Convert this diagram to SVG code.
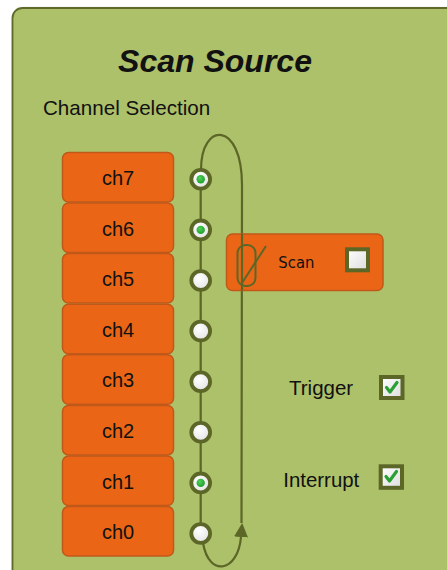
<svg xmlns="http://www.w3.org/2000/svg" width="447" height="570" viewBox="0 0 447 570">
  <defs>
    <radialGradient id="knob" cx="0.4" cy="0.35" r="0.7">
      <stop offset="0" stop-color="#ffffff"/>
      <stop offset="1" stop-color="#e2e2e2"/>
    </radialGradient>
    <radialGradient id="led" cx="0.4" cy="0.35" r="0.7">
      <stop offset="0" stop-color="#4fd25a"/>
      <stop offset="1" stop-color="#1f9a2a"/>
    </radialGradient>
    <linearGradient id="boxfill" x1="0" y1="0" x2="1" y2="1">
      <stop offset="0" stop-color="#ffffff"/>
      <stop offset="1" stop-color="#dcdcdc"/>
    </linearGradient>
    <marker id="arrow" viewBox="0 0 14 14" refX="0" refY="7" markerWidth="14" markerHeight="14" markerUnits="userSpaceOnUse" orient="auto">
      <path d="M0,0 L14,7 L0,14 Z" fill="#5b6627"/>
    </marker>
    <filter id="shadow" x="-5%" y="-5%" width="110%" height="110%">
      <feDropShadow dx="1" dy="1" stdDeviation="0.8" flood-color="#000" flood-opacity="0.35"/>
    </filter>
  </defs>
  <style>
    .panel { fill: #adc06b; stroke: #5e6b2a; stroke-width: 1.8; }
    .ch rect { fill: #ea6616; stroke: #c0581a; stroke-width: 1.5; }
    .label { font-family: "Liberation Sans", Arial, sans-serif; font-size: 20px; fill: #111; }
    .ch text { text-anchor: middle; }
    .title { font-family: "Liberation Sans", Arial, sans-serif; font-size: 32px; font-weight: bold; font-style: italic; fill: #111; text-anchor: middle; }
    .scanlabel { font-family: "DejaVu Sans Condensed", "DejaVu Sans", sans-serif; font-size: 16.5px; fill: #111; }
    .wire { fill: none; stroke: #5b6627; stroke-width: 2.2; }
    .knob { fill: url(#knob); stroke: #5b6627; stroke-width: 3.8; }
    .dot { fill: url(#led); }
    .check { fill: url(#boxfill); stroke: #5b6627; stroke-width: 4; }
    .tick { fill: none; stroke: #2aa034; stroke-width: 3.2; stroke-linecap: round; stroke-linejoin: round; }
  </style>

  <!-- background panel, running off the right and bottom edges -->
  <rect class="panel" x="12.5" y="8" width="460" height="600" rx="10" filter="url(#shadow)"/>

  <text class="title" x="215" y="72">Scan Source</text>
  <text class="label" x="43" y="115" style="font-size:20.6px">Channel Selection</text>

  <!-- channel buttons -->
  <g id="ch7" class="ch"><rect x="62.5" y="152.5" width="111" height="49.5" rx="6"/><text class="label" x="118" y="185">ch7</text></g>
  <g id="ch6" class="ch"><rect x="62.5" y="203" width="111" height="49.5" rx="6"/><text class="label" x="118" y="235.5">ch6</text></g>
  <g id="ch5" class="ch"><rect x="62.5" y="253.6" width="111" height="49.5" rx="6"/><text class="label" x="118" y="286.1">ch5</text></g>
  <g id="ch4" class="ch"><rect x="62.5" y="304.2" width="111" height="49.5" rx="6"/><text class="label" x="118" y="336.7">ch4</text></g>
  <g id="ch3" class="ch"><rect x="62.5" y="354.8" width="111" height="49.5" rx="6"/><text class="label" x="118" y="387.3">ch3</text></g>
  <g id="ch2" class="ch"><rect x="62.5" y="405.4" width="111" height="49.5" rx="6"/><text class="label" x="118" y="437.9">ch2</text></g>
  <g id="ch1" class="ch"><rect x="62.5" y="456" width="111" height="49.5" rx="6"/><text class="label" x="118" y="488.5">ch1</text></g>
  <g id="ch0" class="ch"><rect x="62.5" y="506.6" width="111" height="49.5" rx="6"/><text class="label" x="118" y="539.1">ch0</text></g>

  <!-- connectors: selector bus and scan loop -->
  <g id="connectors">
    <line class="wire" x1="200.7" y1="179.3" x2="200.7" y2="532.7"/>
    <path class="wire" d="M241.5,523 L242,185 C242,121 201,121 201,170"/>
    <path class="wire" d="M203,543 C209,578 238,572 241,537" marker-end="url(#arrow)"/>
  </g>

  <!-- channel selector knobs -->
  <g id="knobs">
    <g id="sel7"><circle class="knob" cx="200.7" cy="179.3" r="9.4"/><circle class="dot" cx="200.7" cy="179.3" r="4.2"/></g>
    <g id="sel6"><circle class="knob" cx="200.7" cy="229.9" r="9.4"/><circle class="dot" cx="200.7" cy="229.9" r="4.2"/></g>
    <g id="sel5"><circle class="knob" cx="200.7" cy="280.5" r="9.4"/></g>
    <g id="sel4"><circle class="knob" cx="200.7" cy="331.1" r="9.4"/></g>
    <g id="sel3"><circle class="knob" cx="200.7" cy="381.7" r="9.4"/></g>
    <g id="sel2"><circle class="knob" cx="200.7" cy="432.3" r="9.4"/></g>
    <g id="sel1"><circle class="knob" cx="200.7" cy="482.9" r="9.4"/><circle class="dot" cx="200.7" cy="482.9" r="4.2"/></g>
    <g id="sel0"><circle class="knob" cx="200.7" cy="533.5" r="9.4"/></g>
  </g>

  <!-- scan switch -->
  <g id="scan">
    <rect x="226.5" y="234" width="156.5" height="56.5" rx="6" fill="#ea6616" stroke="#c0581a" stroke-width="1.5"/>
    <line class="wire" x1="242" y1="234" x2="242" y2="290.5"/>
    <rect x="237.5" y="245" width="18" height="41" rx="8" fill="none" stroke="#5b6627" stroke-width="2"/>
    <line x1="242" y1="283" x2="266" y2="246" stroke="#5b6627" stroke-width="2"/>
    <text class="scanlabel" x="278.3" y="267.7">Scan</text>
    <rect class="check" x="347" y="249.3" width="21" height="21"/>
  </g>

  <!-- trigger option -->
  <g id="trigger">
    <text class="label" x="289" y="395" style="font-size:20.5px">Trigger</text>
    <rect class="check" x="381" y="377" width="21.5" height="21"/>
    <path class="tick" d="M386.5,387.5 L390,392 L397,382.5"/>
  </g>

  <!-- interrupt option -->
  <g id="interrupt">
    <text class="label" x="283.3" y="486.7" style="font-size:20.4px">Interrupt</text>
    <rect class="check" x="380.7" y="466.3" width="21.3" height="21.5"/>
    <path class="tick" d="M386,476.5 L389.5,481 L396.5,471.5"/>
  </g>
</svg>
